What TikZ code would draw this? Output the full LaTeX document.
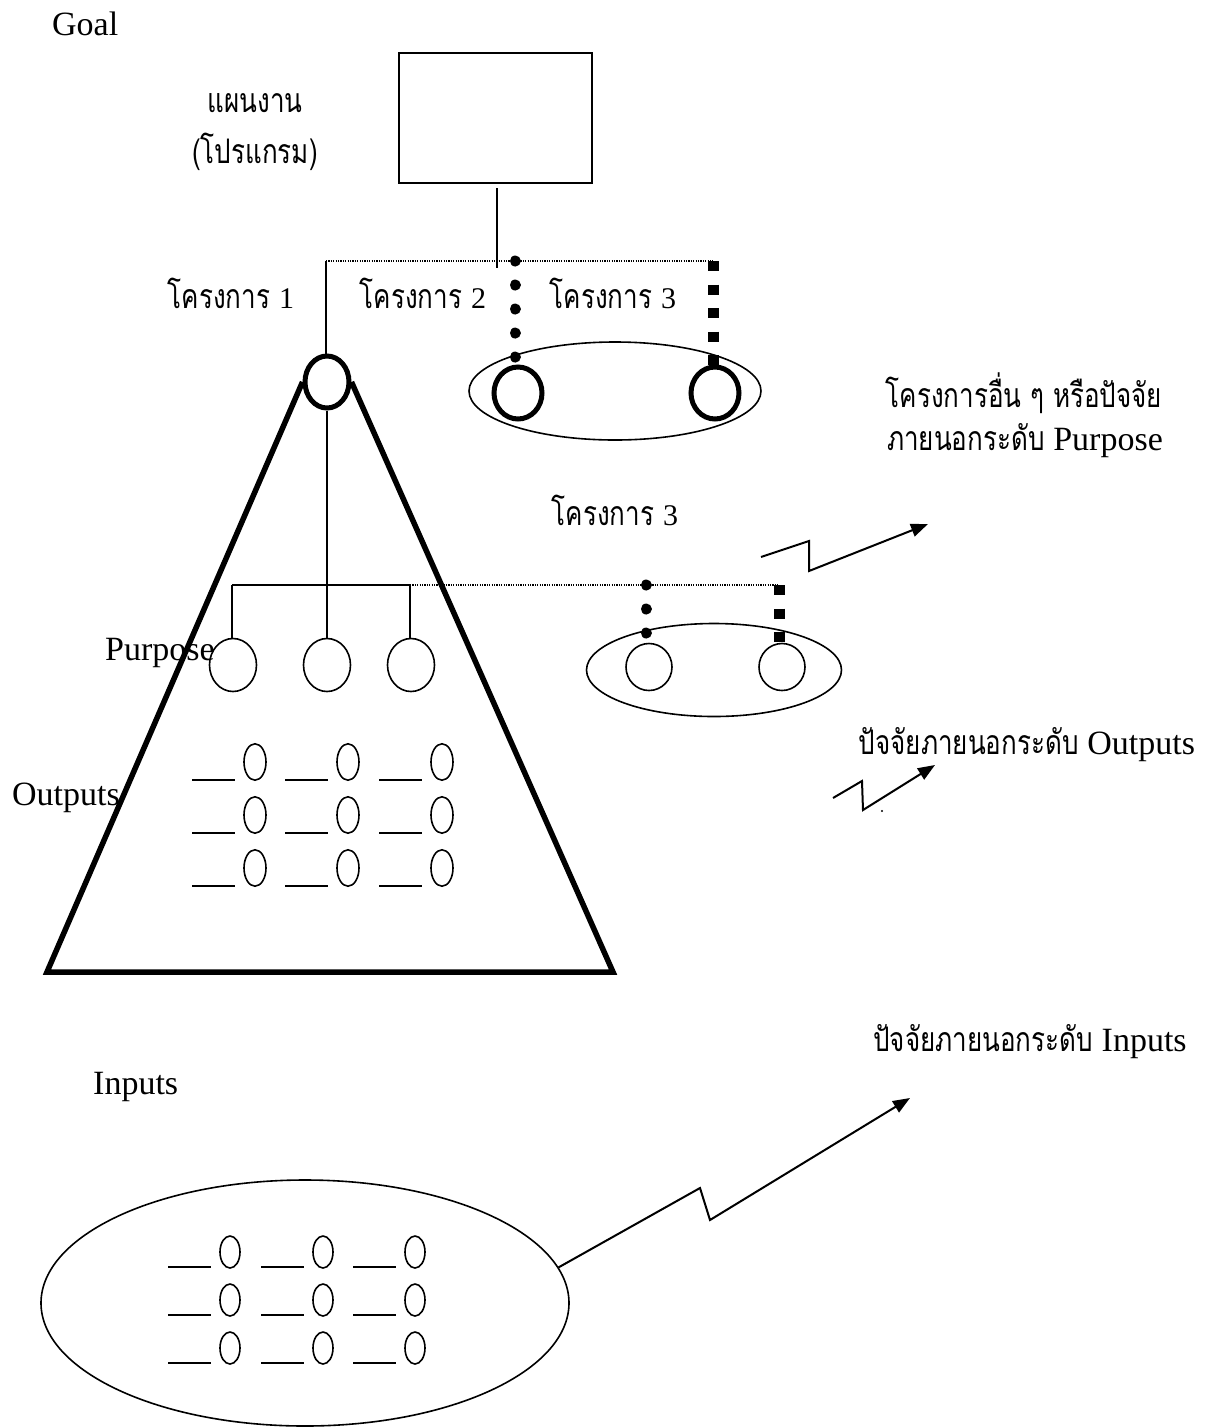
\documentclass[tikz,border=0pt]{standalone}
\usepackage{fontspec}
\usepackage{graphicx}
\setmainfont{Liberation Serif}
\newfontfamily\thai[Script=Thai]{Loma}
\newcommand\tht[1]{\scalebox{1}[1.3]{#1}}
\newcommand\latin[1]{{\rmfamily\fontsize{34}{40}\selectfont #1}}
\newcommand\digit[1]{{\rmfamily\fontsize{30}{34}\selectfont #1}}
\usetikzlibrary{shapes.geometric,arrows.meta}
\begin{document}
\begin{tikzpicture}[x=1pt,y=-1pt,
  lat/.style={font=\fontsize{34}{40}\selectfont, inner sep=0},
  th/.style={font=\thai\fontsize{26}{30}\selectfont, inner sep=0, align=center},
  thinline/.style={line width=1.6pt},
  heavyring/.style={ellipse, draw, line width=5pt, inner sep=0},
  lightring/.style={ellipse, draw, line width=1.6pt, inner sep=0},
  fineline/.style={line width=1.2pt, dash pattern=on 1.2pt off 1.2pt},
  bigdots/.style={line width=11pt, line cap=round, dash pattern=on 0.01pt off 24pt},
  squares/.style={line width=11pt, dash pattern=on 10pt off 13.5pt},
  zig/.style={line width=2pt, -{Triangle[length=17pt,width=13pt]}},
  ]
\useasboundingbox (0,0) rectangle (1219,1428);
\fill[white] (0,0) rectangle (1219,1428);

% texts
\node[lat, anchor=base west] (goal) at (52,35) {Goal};
\node[th] (plan1) at (255,103) {\tht{แผนงาน}};
\node[th] (plan2) at (255,152) {\tht{(โปรแกรม)}};
\node[th] (proj1) at (231,293) {\tht{โครงการ} \digit{1}};
\node[th] (proj2) at (423,293) {\tht{โครงการ} \digit{2}};
\node[th] (proj3) at (613,293) {\tht{โครงการ} \digit{3}};
\node[th] (proj3b) at (615,510) {\tht{โครงการ} \digit{3}};
\node[th] (ext1a) at (1024,393) {\tht{โครงการอื่น ๆ หรือปัจจัย}};
\node[th] (ext1b) at (1025,441) {\tht{ภายนอกระดับ} \latin{Purpose}};
\node[th] (ext2) at (1027,745) {\tht{ปัจจัยภายนอกระดับ} \latin{Outputs}};
\node[th] (ext3) at (1030,1042) {\tht{ปัจจัยภายนอกระดับ} \latin{Inputs}};
\node[lat, anchor=base west] (outl) at (12,805) {Outputs};
\node[lat, anchor=base west] (inl) at (93,1094) {Inputs};

% program box
\node[draw, line width=2pt, minimum width=193pt, minimum height=130pt, inner sep=0] (box) at (495.5,118) {};
\coordinate (boxstem) at (497,188);
\coordinate (stemend) at (497,268);
\draw[thinline] (boxstem) -- (stemend);

% top bar
\coordinate (barL) at (326,261);
\coordinate (barM) at (515,261);
\coordinate (barR) at (713,261);
\draw[fineline] (barL) -- (barR);

% top project circle and triangle
\node[heavyring, minimum width=44pt, minimum height=52pt] (top) at (327,382) {};
\draw[thinline] (barL) -- (barL |- top.north);
\draw[line width=5.5pt, line join=miter] (top.west) -- (47,972) -- (613,972) -- (top.east);

% group 1 (projects 2,3)
\node[lightring, minimum width=292pt, minimum height=98pt] (e1) at (615,391) {};
\node[heavyring, minimum width=48pt, minimum height=52pt] (g1a) at (518,393) {};
\node[heavyring, minimum width=48pt, minimum height=52pt] (g1b) at (715,393) {};
\draw[bigdots] (barM) -- (barM |- g1a.north);
\draw[squares] (barR) -- (barR |- g1b.north);

% purpose level
\coordinate (pbarL) at (232,585);
\coordinate (pbarM) at (327,585);
\coordinate (pbarR) at (410,585);
\coordinate (pdot) at (646,585);
\coordinate (psq) at (779,585);
\node[lightring, minimum width=47pt, minimum height=53pt] (p1) at (233,665) {};
\node[lightring, minimum width=47pt, minimum height=53pt] (p2) at (327,665) {};
\node[lightring, minimum width=47pt, minimum height=53pt] (p3) at (411,665) {};
\draw[thinline] (top.south) -- (pbarM);
\draw[thinline] (pbarL) -- (pbarR);
\draw[thinline] (pbarL) -- (pbarL |- p1.north);
\draw[thinline] (pbarM) -- (p2.north);
\draw[thinline] (pbarR) -- (pbarR |- p3.north);
\draw[fineline] (pbarR) -- (psq);
\node[lat, anchor=base west] (purp) at (105,660) {Purpose};

% group 2
\node[lightring, minimum width=255pt, minimum height=93pt] (e2) at (714,670) {};
\node[lightring, minimum width=46pt, minimum height=47pt] (g2a) at (649,667) {};
\node[lightring, minimum width=46pt, minimum height=47pt] (g2b) at (782,667) {};
\draw[bigdots] (pdot) -- (pdot |- g2a.north);
\draw[squares] (psq) -- (psq |- g2b.north);

% output grid
\foreach \cx in {255,348,442} \foreach \cy in {762,815,868} {
  \draw[thinline] (\cx-63,\cy+18) -- (\cx-20,\cy+18);
  \draw[thinline] (\cx,\cy) ellipse [x radius=11, y radius=18.2];
}

% inputs ellipse and grid
\node[lightring, minimum width=528pt, minimum height=246pt] (inE) at (305,1303) {};
\foreach \cx in {230,323,415} \foreach \cy in {1252,1300,1348} {
  \draw[thinline] (\cx-62,\cy+15) -- (\cx-19,\cy+15);
  \draw[thinline] (\cx,\cy) ellipse [x radius=10, y radius=16];
}

% zigzag arrows
\coordinate (z1s) at (761,557);
\coordinate (z1e) at (928,524);
\draw[zig] (z1s) -- (809,541) -- (809,571) -- (z1e);
\coordinate (z2s) at (833,798);
\coordinate (z2e) at (935,765);
\draw[zig] (z2s) -- (862,781) -- (863,810) -- (z2e);
\fill (882,811) circle [radius=1.2];
\coordinate (z3e) at (910,1098);
\draw[zig] (inE.8.5) -- (700,1188) -- (710,1220) -- (z3e);
\end{tikzpicture}
\end{document}
